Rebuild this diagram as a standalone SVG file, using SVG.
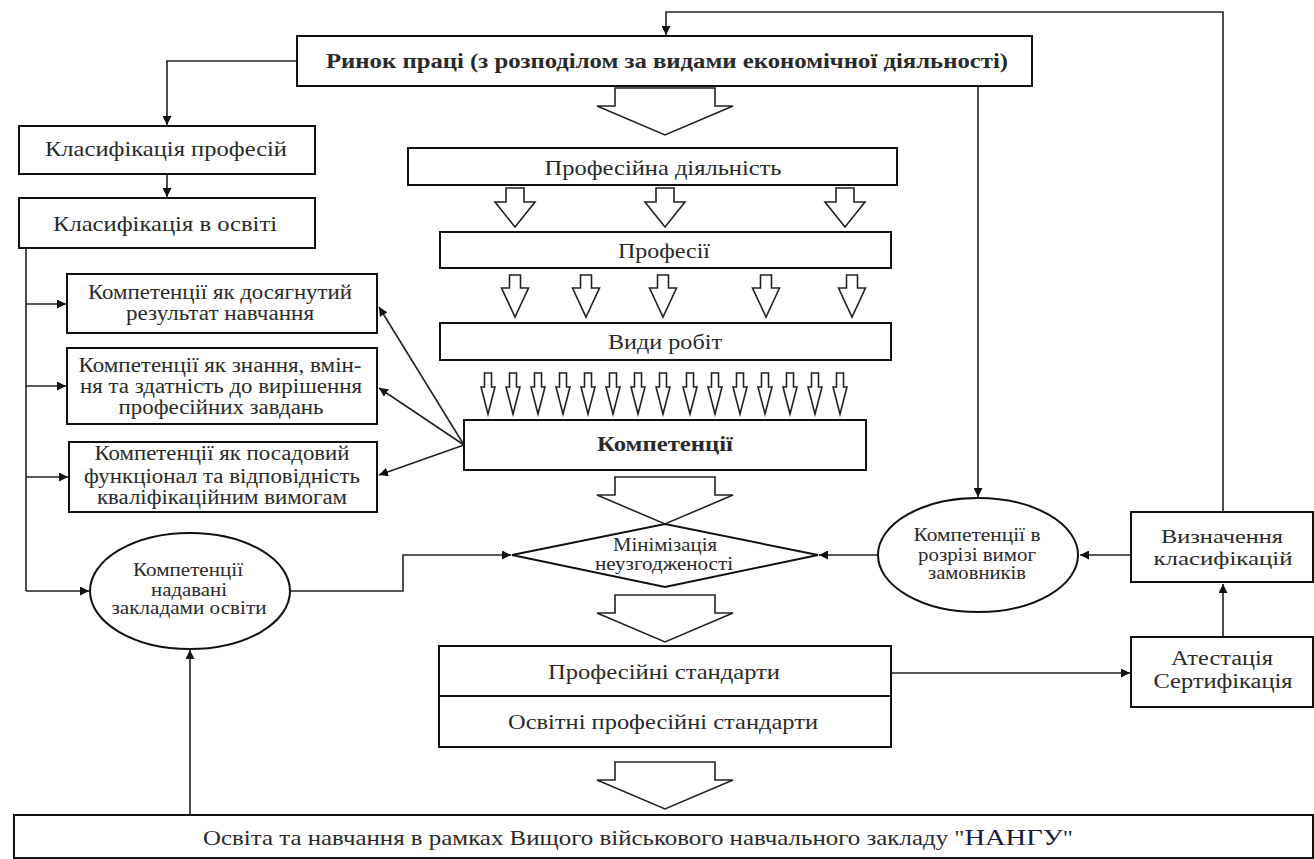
<svg xmlns="http://www.w3.org/2000/svg" width="1314" height="859" viewBox="0 0 1314 859">
<defs>
<style>
.b{fill:#fff;stroke:#111;stroke-width:2}
.t{font-family:"Liberation Serif","Times New Roman",serif;fill:#2a2a2a;text-anchor:middle}
.c{fill:none;stroke:#222;stroke-width:1.6}
.ha{fill:#fff;stroke:#222;stroke-width:1.6;stroke-linejoin:miter}
</style>
<marker id="ar" viewBox="0 0 10 10" refX="10" refY="5" markerWidth="9" markerHeight="9" markerUnits="userSpaceOnUse" orient="auto"><path d="M0,0 L10,5 L0,10 z" fill="#111"/></marker>
<path id="bigA" d="M-50,0 H50 V18 H68 L0,47 L-68,18 H-50 Z"/>
<path id="midA" d="M-9,0 H9 V14 H20 L0,39 L-20,14 H-9 Z"/>
<path id="smA" d="M-5.5,0 H5.5 V13 H13.5 L0,42 L-13.5,13 H-5.5 Z"/>
<path id="tnA" d="M-3.5,0 H3.5 V14 H7 L0,41 L-7,14 H-3.5 Z"/>
</defs>
<rect width="1314" height="859" fill="#fff"/>

<g id="connectors">
<path class="c" d="M1223,512 V12 H666 V35" marker-end="url(#ar)"/>
<path class="c" d="M297,61 H167 V125" marker-end="url(#ar)"/>
<path class="c" d="M167,174 V197" marker-end="url(#ar)"/>
<path class="c" d="M26,248 V591"/>
<path class="c" d="M26,304 H66" marker-end="url(#ar)"/>
<path class="c" d="M26,386 H66" marker-end="url(#ar)"/>
<path class="c" d="M26,477 H68" marker-end="url(#ar)"/>
<path class="c" d="M26,591 H89" marker-end="url(#ar)"/>
<path class="c" d="M464,445 L379,307" marker-end="url(#ar)"/>
<path class="c" d="M464,445 L379,388" marker-end="url(#ar)"/>
<path class="c" d="M464,445 L379,475" marker-end="url(#ar)"/>
<path class="c" d="M290,591 H403 V555 H511" marker-end="url(#ar)"/>
<path class="c" d="M978,86 V497" marker-end="url(#ar)"/>
<path class="c" d="M878,555 H819" marker-end="url(#ar)"/>
<path class="c" d="M1131,555 H1080" marker-end="url(#ar)"/>
<path class="c" d="M1223,637 V584" marker-end="url(#ar)"/>
<path class="c" d="M891,673 H1130" marker-end="url(#ar)"/>
<path class="c" d="M190,815 V650" marker-end="url(#ar)"/>
<g class="ha">
<use href="#bigA" x="665" y="88"/>
<use href="#bigA" x="665" y="477"/>
<use href="#bigA" x="665" y="595"/>
<use href="#bigA" x="665" y="762"/>
<use href="#midA" x="515" y="188"/>
<use href="#midA" x="665" y="188"/>
<use href="#midA" x="845" y="188"/>
<use href="#smA" x="515" y="275"/>
<use href="#smA" x="586" y="275"/>
<use href="#smA" x="663" y="275"/>
<use href="#smA" x="766" y="275"/>
<use href="#smA" x="852" y="275"/>
<use href="#tnA" x="488" y="373"/>
<use href="#tnA" x="513" y="373"/>
<use href="#tnA" x="538" y="373"/>
<use href="#tnA" x="563" y="373"/>
<use href="#tnA" x="588" y="373"/>
<use href="#tnA" x="613" y="373"/>
<use href="#tnA" x="638" y="373"/>
<use href="#tnA" x="663" y="373"/>
<use href="#tnA" x="690" y="373"/>
<use href="#tnA" x="715" y="373"/>
<use href="#tnA" x="740" y="373"/>
<use href="#tnA" x="765" y="373"/>
<use href="#tnA" x="790" y="373"/>
<use href="#tnA" x="815" y="373"/>
<use href="#tnA" x="840" y="373"/>
</g>
</g>

<g id="rynok"><rect class="b" x="297" y="36" width="735" height="50"/>
<text class="t" x="667" y="68" font-size="21" font-weight="bold" textLength="682" lengthAdjust="spacingAndGlyphs">Ринок праці (з розподілом за видами економічної діяльності)</text></g>

<g id="klas-prof"><rect class="b" x="19" y="126" width="296" height="48"/>
<text class="t" x="166" y="156" font-size="22" textLength="242" lengthAdjust="spacingAndGlyphs">Класифікація професій</text></g>

<g id="klas-osv"><rect class="b" x="19" y="198" width="296" height="50"/>
<text class="t" x="165" y="231" font-size="22" textLength="224" lengthAdjust="spacingAndGlyphs">Класифікація в освіті</text></g>

<g id="komp1"><rect class="b" x="67" y="274" width="310" height="59"/>
<text class="t" x="220" y="299" font-size="20" textLength="264" lengthAdjust="spacingAndGlyphs">Компетенції як досягнутий</text>
<text class="t" x="220" y="320" font-size="20" textLength="188" lengthAdjust="spacingAndGlyphs">результат навчання</text></g>

<g id="komp2"><rect class="b" x="67" y="348" width="310" height="76"/>
<text class="t" x="220" y="372" font-size="20" textLength="283" lengthAdjust="spacingAndGlyphs">Компетенції як знання, вмін-</text>
<text class="t" x="221" y="393" font-size="20" textLength="282" lengthAdjust="spacingAndGlyphs">ня та здатність до вирішення</text>
<text class="t" x="221" y="414" font-size="20" textLength="205" lengthAdjust="spacingAndGlyphs">професійних завдань</text></g>

<g id="komp3"><rect class="b" x="69" y="442" width="308" height="70"/>
<text class="t" x="222" y="460" font-size="20" textLength="255" lengthAdjust="spacingAndGlyphs">Компетенції як посадовий</text>
<text class="t" x="222" y="483" font-size="20" textLength="276" lengthAdjust="spacingAndGlyphs">функціонал та відповідність</text>
<text class="t" x="222" y="504" font-size="20" textLength="250" lengthAdjust="spacingAndGlyphs">кваліфікаційним вимогам</text></g>

<g id="komp-zaklady"><ellipse class="b" cx="190" cy="591" rx="100" ry="58"/>
<text class="t" x="188" y="576" font-size="18" textLength="110" lengthAdjust="spacingAndGlyphs">Компетенції</text>
<text class="t" x="189" y="596" font-size="18" textLength="76" lengthAdjust="spacingAndGlyphs">надавані</text>
<text class="t" x="189" y="614" font-size="18" textLength="155" lengthAdjust="spacingAndGlyphs">закладами освіти</text></g>

<g id="prof-diyal"><rect class="b" x="408" y="148" width="489" height="37"/>
<text class="t" x="663" y="175" font-size="22" textLength="237" lengthAdjust="spacingAndGlyphs">Професійна діяльність</text></g>

<g id="profesii"><rect class="b" x="440" y="232" width="451" height="36"/>
<text class="t" x="664" y="258" font-size="22" textLength="92" lengthAdjust="spacingAndGlyphs">Професії</text></g>

<g id="vydy"><rect class="b" x="440" y="323" width="451" height="37"/>
<text class="t" x="665" y="349" font-size="22" textLength="114" lengthAdjust="spacingAndGlyphs">Види робіт</text></g>

<g id="kompetentsii"><rect class="b" x="464" y="420" width="402" height="50"/>
<text class="t" x="665" y="451" font-size="21" font-weight="bold" textLength="136" lengthAdjust="spacingAndGlyphs">Компетенції</text></g>

<g id="minimizatsia"><path class="b" d="M512,555 L665,524 L818,555 L665,587 Z"/>
<text class="t" x="665" y="551" font-size="19" textLength="104" lengthAdjust="spacingAndGlyphs">Мінімізація</text>
<text class="t" x="664" y="570" font-size="19" textLength="138" lengthAdjust="spacingAndGlyphs">неузгодженості</text></g>

<g id="standarty"><rect class="b" x="439" y="646" width="452" height="101"/>
<line class="b" x1="439" y1="696" x2="891" y2="696"/>
<text class="t" x="664" y="679" font-size="22" textLength="232" lengthAdjust="spacingAndGlyphs">Професійні стандарти</text>
<text class="t" x="663" y="729" font-size="22" textLength="310" lengthAdjust="spacingAndGlyphs">Освітні професійні стандарти</text></g>

<g id="komp-zamovn"><ellipse class="b" cx="978" cy="555" rx="100" ry="57"/>
<text class="t" x="977" y="541" font-size="18" textLength="127" lengthAdjust="spacingAndGlyphs">Компетенції в</text>
<text class="t" x="977" y="561" font-size="18" textLength="118" lengthAdjust="spacingAndGlyphs">розрізі вимог</text>
<text class="t" x="977" y="579" font-size="18" textLength="98" lengthAdjust="spacingAndGlyphs">замовників</text></g>

<g id="vyznach"><rect class="b" x="1131" y="512" width="182" height="70"/>
<text class="t" x="1222" y="543" font-size="19" textLength="122" lengthAdjust="spacingAndGlyphs">Визначення</text>
<text class="t" x="1223" y="565" font-size="19" textLength="139" lengthAdjust="spacingAndGlyphs">класифікацій</text></g>

<g id="atestatsia"><rect class="b" x="1131" y="637" width="182" height="70"/>
<text class="t" x="1222" y="665" font-size="20" textLength="102" lengthAdjust="spacingAndGlyphs">Атестація</text>
<text class="t" x="1223" y="688" font-size="20" textLength="139" lengthAdjust="spacingAndGlyphs">Сертифікація</text></g>

<g id="osvita"><rect class="b" x="14" y="815" width="1299" height="43"/>
<text class="t" x="638" y="845" font-size="21" textLength="870" lengthAdjust="spacingAndGlyphs">Освіта та навчання в рамках Вищого військового навчального закладу "<tspan font-size="24" fill="#1a1a40">НАНГУ</tspan>"</text></g>
</svg>
